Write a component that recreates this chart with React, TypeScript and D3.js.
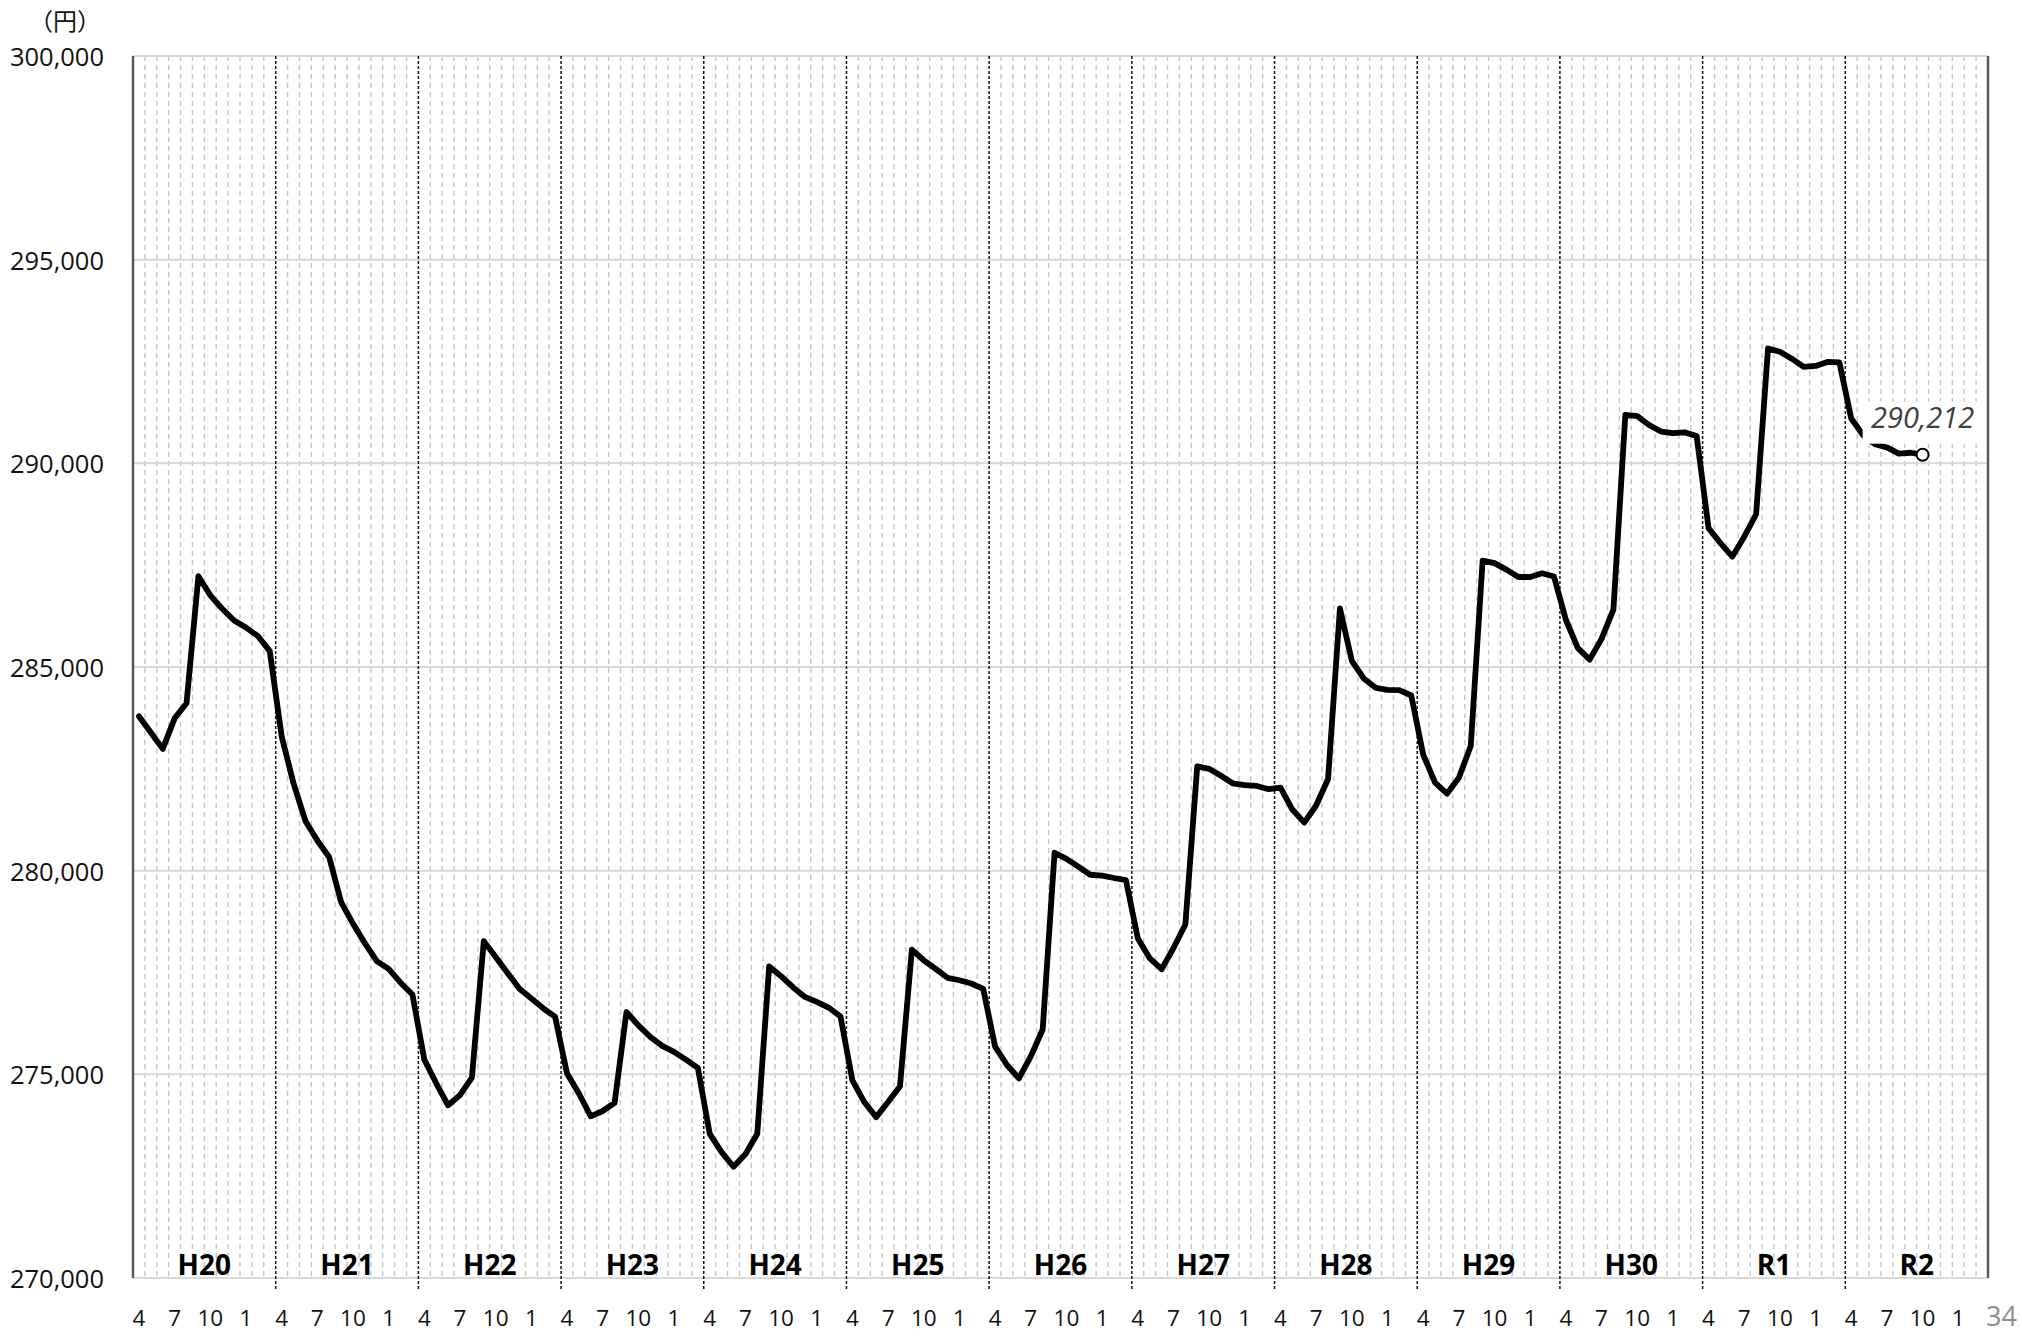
import React from 'react';
import * as d3 from 'd3';

// fiscal years and the months of one fiscal year (April start)
const fiscalYears = ['H20', 'H21', 'H22', 'H23', 'H24', 'H25', 'H26', 'H27', 'H28', 'H29', 'H30', 'R1', 'R2'];
const monthsOfYear = [4, 5, 6, 7, 8, 9, 10, 11, 12, 1, 2, 3];
const tickMonths = [4, 7, 10, 1];
const yTicks = [270000, 275000, 280000, 285000, 290000, 295000, 300000];

// monthly values (yen), one array per fiscal year
const valuesH20 = [283790, 283390, 282990, 283740, 284110, 287230, 286760, 286430, 286140, 285970, 285760, 285390];
const valuesH21 = [283300, 282140, 281220, 280740, 280330, 279230, 278700, 278220, 277780, 277590, 277250, 276960];
const valuesH22 = [275360, 274780, 274240, 274490, 274920, 278270, 277880, 277490, 277100, 276860, 276620, 276410];
const valuesH23 = [275020, 274530, 273970, 274100, 274300, 276530, 276200, 275920, 275700, 275550, 275360, 275160];
const valuesH24 = [273540, 273090, 272730, 273040, 273540, 277650, 277410, 277140, 276900, 276780, 276640, 276420];
const valuesH25 = [274850, 274320, 273950, 274320, 274710, 278060, 277800, 277590, 277370, 277310, 277230, 277100];
const valuesH26 = [275680, 275230, 274900, 275440, 276100, 280440, 280290, 280100, 279900, 279880, 279820, 279770];
const valuesH27 = [278340, 277850, 277580, 278100, 278680, 282560, 282500, 282330, 282140, 282100, 282080, 282000];
const valuesH28 = [282040, 281500, 281180, 281600, 282250, 286440, 285150, 284720, 284490, 284440, 284430, 284300];
const valuesH29 = [282850, 282160, 281890, 282280, 283060, 287610, 287550, 287390, 287210, 287210, 287300, 287220];
const valuesH30 = [286160, 285470, 285180, 285690, 286410, 291190, 291160, 290940, 290780, 290740, 290760, 290670];
const valuesR1 = [288410, 288040, 287710, 288200, 288750, 292820, 292740, 292570, 292370, 292390, 292490, 292480];
const valuesR2 = [291100, 290690, 290470, 290390, 290240, 290260, 290212];

const allValues = [
  ...valuesH20, ...valuesH21, ...valuesH22, ...valuesH23, ...valuesH24, ...valuesH25, ...valuesH26,
  ...valuesH27, ...valuesH28, ...valuesH29, ...valuesH30, ...valuesR1, ...valuesR2,
];

const W = 2022;
const H = 1342;
const left = 133, right = 1988, top = 56, bottom = 1278;
const font = '"Open Sans", "Noto Sans", sans-serif';

export default function App() {
  const slots = d3.range(fiscalYears.length * 12);
  const x = d3.scaleBand<number>().domain(slots).range([left, right]).padding(0);
  const y = d3.scaleLinear().domain([270000, 300000]).range([bottom, top]);
  const step = x.bandwidth();
  const cx = (i: number) => (x(i) as number) + step / 2;

  const line = d3.line<number>()
    .x((_, i) => cx(i))
    .y(d => y(d));

  const lastI = allValues.length - 1;
  const lastX = cx(lastI);
  const lastY = y(allValues[lastI]);

  return (
    <svg width={W} height={H} style={{ position: 'absolute', left: 0, top: 0, background: '#fff' }}
      xmlns="http://www.w3.org/2000/svg">
      {/* monthly dashed grid */}
      {slots.filter(i => i % 12 !== 0).map(i => (
        <line key={'m' + i} x1={x(i)} x2={x(i)} y1={top} y2={bottom}
          stroke="#c6c6c6" strokeWidth={1.4} strokeDasharray="5 4" />
      ))}
      {/* horizontal grid */}
      {yTicks.map(t => (
        <line key={'g' + t} x1={left} x2={right} y1={y(t)} y2={y(t)} stroke="#d9d9d9" strokeWidth={2} />
      ))}
      {/* fiscal year separators */}
      {fiscalYears.map((fy, k) => k === 0 ? null : (
        <line key={'y' + fy} x1={x(k * 12)} x2={x(k * 12)} y1={top} y2={bottom + 12}
          stroke="#111" strokeWidth={1.5} strokeDasharray="3 2" />
      ))}
      <line x1={left} x2={left} y1={top} y2={bottom} stroke="#595959" strokeWidth={2.5} />
      <line x1={right} x2={right} y1={top} y2={bottom} stroke="#595959" strokeWidth={2.5} />

      {/* y labels */}
      {yTicks.map(t => (
        <text key={'t' + t} x={104} y={y(t)} textAnchor="end" dominantBaseline="central"
          fontFamily={font} fontSize={25.5} fill="#111">{d3.format(',')(t)}</text>
      ))}
      <text x={101} y={19} textAnchor="end" dominantBaseline="central"
        fontFamily='"Noto Sans CJK JP", sans-serif' fontSize={24} fill="#111">（円）</text>

      {/* month labels */}
      {slots.filter(i => tickMonths.includes(monthsOfYear[i % 12])).map(i => (
        <text key={'x' + i} x={cx(i)} y={1317} textAnchor="middle" dominantBaseline="central"
          fontFamily={font} fontSize={22.5} fill="#111">{monthsOfYear[i % 12]}</text>
      ))}
      {/* fiscal year labels */}
      {fiscalYears.map((fy, k) => (
        <text key={'f' + fy} x={(x(k * 12) as number) + step * 6} y={1275} textAnchor="middle"
          fontFamily={font} fontWeight="bold" fontSize={28} fill="#000">{fy}</text>
      ))}

      <path d={line(allValues) || ''} fill="none" stroke="#000" strokeWidth={5.8}
        strokeLinejoin="round" strokeLinecap="round" />

      {/* last value label */}
      <rect x={lastX - 60} y={lastY - 53} width={118} height={42} fill="#fff" />
      <text x={lastX} y={lastY - 27} textAnchor="middle" fontFamily={font} fontStyle="italic"
        fontSize={29} fill="#404040">{d3.format(',')(allValues[lastI])}</text>
      <circle cx={lastX} cy={lastY} r={6} fill="#fff" stroke="#000" strokeWidth={2} />

      <text x={1986} y={1326} fontFamily={font} fontSize={27} fill="#8c8c8c">34</text>
    </svg>
  );
}
